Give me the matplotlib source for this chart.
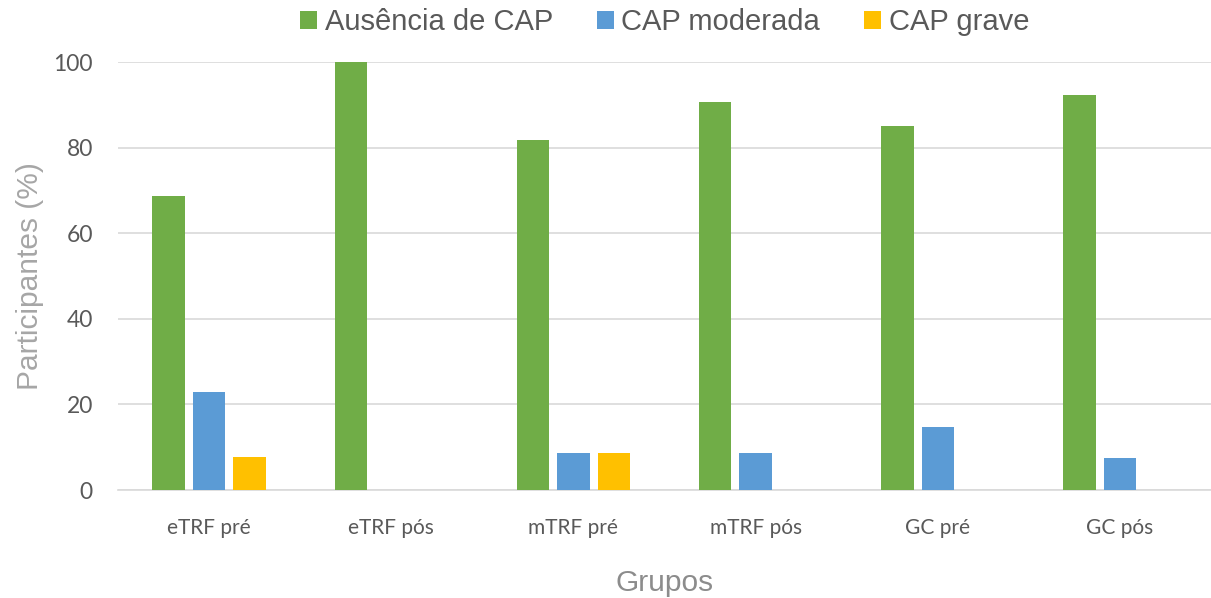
import numpy as np
import matplotlib
matplotlib.use("Agg")
import matplotlib.pyplot as plt

# data
grupos = ["eTRF pré", "eTRF pós", "mTRF pré", "mTRF pós", "GC pré", "GC pós"]
series = ["Ausência de CAP", "CAP moderada", "CAP grave"]
ausencia = [68.8, 100.0, 81.8, 90.7, 85.0, 92.4]
moderada = [22.9, 0.0, 8.7, 8.7, 14.7, 7.5]
grave = [7.7, 0.0, 8.7, 0.0, 0.0, 0.0]

colors = ["#70AD47", "#5B9BD5", "#FFC000"]
values = [ausencia, moderada, grave]

fig = plt.figure(figsize=(12.11, 5.98), dpi=100)
ax = fig.add_axes([0.0974, 0.1806, 0.9026, 0.7157])

x = np.arange(len(grupos))
width = 0.178
step = 0.222

for i, (name, vals, col) in enumerate(zip(series, values, colors)):
    ax.bar(x + (i - 1) * step, vals, width, color=col, label=name,
           edgecolor="none", zorder=3)

ax.set_xlim(-0.5, len(grupos) - 0.5)
ax.set_ylim(0, 100)
ax.set_yticks(range(0, 101, 20))
ax.set_xticks(x)
ax.set_xticklabels(grupos, fontfamily="Lato", fontsize=15, color="#595959")
for lbl in ax.get_yticklabels():
    lbl.set_fontfamily("Lato")
    lbl.set_fontsize(16.5)
    lbl.set_color("#595959")

ax.tick_params(axis="both", length=0)
ax.tick_params(axis="x", pad=20)
ax.tick_params(axis="y", pad=18)

ax.grid(axis="y", color="#D9D9D9", linewidth=1.2, zorder=0)
for s in ["top", "right", "left"]:
    ax.spines[s].set_visible(False)
ax.spines["bottom"].set_color("#D9D9D9")
ax.spines["bottom"].set_linewidth(1.2)

ax.set_ylabel("Participantes (%)", fontfamily="Liberation Sans", fontsize=21.5,
              color="#A6A6A6")
ax.yaxis.set_label_coords(-0.068, 0.5)
ax.set_xlabel("Grupos", fontfamily="Liberation Sans", fontsize=21.5, color="#8C8C8C")
ax.xaxis.set_label_coords(0.5, -0.185)

leg = ax.legend(loc="center", bbox_to_anchor=(0.5, 1.093), ncol=3, frameon=False,
                prop={"family": "Liberation Sans", "size": 21},
                handlelength=0.6, handleheight=0.6, handletextpad=0.25,
                columnspacing=1.5)
for t in leg.get_texts():
    t.set_color("#595959")

fig.savefig("out.png", dpi=100)
